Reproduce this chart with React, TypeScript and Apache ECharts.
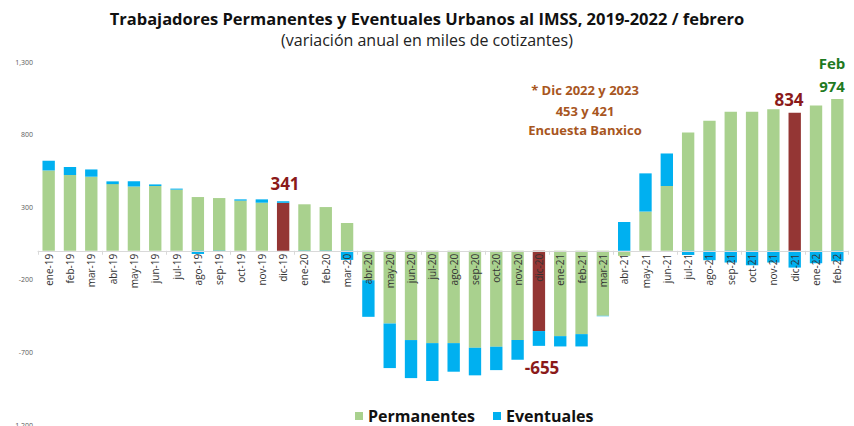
import React, { useEffect, useRef } from "react";
import * as echarts from "echarts";

const categories = [
  "ene-19", "feb-19", "mar-19", "abr-19", "may-19", "jun-19", "jul-19", "ago-19", "sep-19", "oct-19", "nov-19", "dic-19",
  "ene-20", "feb-20", "mar-20", "abr-20", "may-20", "jun-20", "jul-20", "ago-20", "sep-20", "oct-20", "nov-20", "dic-20",
  "ene-21", "feb-21", "mar-21", "abr-21", "may-21", "jun-21", "jul-21", "ago-21", "sep-21", "oct-21", "nov-21", "dic-21",
  "ene-22", "feb-22",
];

const permanentes = [
  553, 521, 510, 459, 443, 446, 421, 370, 363, 345, 331, 330,
  320, 301, 191, -203, -501, -615, -636, -636, -668, -661, -615, -553,
  -588, -574, -448, -35, 270, 446, 815, 895, 957, 957, 975, 950,
  1000, 1046,
];

const eventuales = [
  67, 55, 50, 19, 35, 11, 7, -22, -8, 9, 23, 11,
  -7, -5, -63, -252, -307, -262, -261, -197, -190, -161, -136, -102,
  -71, -85, -3, 198, 263, 224, -29, -65, -81, -100, -81, -116,
  -86, -72,
];

const highlighted = ["dic-19", "dic-20", "dic-21"];

const yTicks = { min: -1200, max: 1300, interval: 500 };

const GREEN = "#a9d18e";
const BLUE = "#00b0f0";
const RED = "#943634";
const LABEL_RED = "#8b1a1a";
const FONT = "'Open Sans', 'DejaVu Sans', sans-serif";

const GRID_TOP = 62;
const GRID_BOTTOM = 1;
const HEIGHT = 426;

export default function App() {
  const ref = useRef<HTMLDivElement>(null);

  useEffect(() => {
    document.body.style.margin = "0";
    if (!ref.current) return;
    const chart = echarts.init(ref.current, undefined, { renderer: "svg" });

    const permData = permanentes.map((v, i) =>
      highlighted.includes(categories[i])
        ? { value: v, itemStyle: { color: RED } }
        : v
    );

    const gridH = HEIGHT - GRID_TOP - GRID_BOTTOM;
    const zeroFromBottom = (gridH * (0 - yTicks.min)) / (yTicks.max - yTicks.min);

    chart.setOption({
      animation: false,
      backgroundColor: "#ffffff",
      textStyle: { fontFamily: FONT },
      title: [
        {
          text: "Trabajadores Permanentes y Eventuales Urbanos al IMSS, 2019-2022 / febrero",
          left: "center",
          top: 5,
          textStyle: { fontSize: 16.5, fontWeight: "bold", color: "#111111", fontFamily: FONT },
        },
        {
          text: "(variación anual en miles de cotizantes)",
          left: "center",
          top: 27,
          textStyle: { fontSize: 16, fontWeight: "normal", color: "#222222", fontFamily: FONT },
        },
      ],
      legend: {
        top: 407,
        left: 355,
        padding: 0,
        icon: "rect",
        itemWidth: 8,
        itemHeight: 8,
        itemGap: 18,
        textStyle: { fontSize: 16, lineHeight: 18, fontWeight: "bold", color: "#111111", fontFamily: FONT },
        data: [
          { name: "Permanentes", itemStyle: { color: GREEN } },
          { name: "Eventuales", itemStyle: { color: BLUE } },
        ],
      },
      grid: {
        left: 38,
        right: 6,
        top: GRID_TOP,
        bottom: GRID_BOTTOM,
        containLabel: false,
        outerBoundsMode: "none",
      },
      xAxis: {
        type: "category",
        data: categories,
        position: "bottom",
        offset: -zeroFromBottom,
        z: 10,
        axisLine: { onZero: false, lineStyle: { color: "#d9d9d9", width: 1 } },
        axisTick: { show: true, alignWithLabel: false, length: 4, lineStyle: { color: "#d9d9d9" } },
        axisLabel: { show: false },
      },
      yAxis: {
        type: "value",
        min: yTicks.min,
        max: yTicks.max,
        interval: yTicks.interval,
        splitLine: { show: false },
        axisLine: { show: false },
        axisTick: { show: false },
        axisLabel: {
          fontSize: 7,
          color: "#595959",
          margin: 5,
          formatter: (v: number) => v.toLocaleString("en-US"),
        },
      },
      series: [
        {
          name: "Permanentes",
          type: "bar",
          stack: "total",
          barWidth: "58%",
          itemStyle: { color: GREEN },
          data: permData,
        },
        {
          name: "Eventuales",
          type: "bar",
          stack: "total",
          barWidth: "58%",
          itemStyle: { color: BLUE },
          data: eventuales,
        },
        {
          name: "etiquetas",
          type: "custom",
          z: 20,
          silent: true,
          clip: false,
          data: categories.map((c, i) => [i, 0]),
          renderItem: (params: any, api: any) => {
            const p = api.coord([api.value(0), 0]);
            return {
              type: "text",
              x: p[0],
              y: p[1] + 3,
              rotation: Math.PI / 2,
              style: {
                text: categories[params.dataIndex],
                fill: "#333333",
                font: `10px ${FONT}`,
                textAlign: "right",
                textVerticalAlign: "middle",
              },
            };
          },
        },
      ],
      graphic: [
        {
          type: "text", x: 285, y: 183,
          style: { text: "341", fill: LABEL_RED, font: `bold 17px ${FONT}`, textAlign: "center", textVerticalAlign: "middle" },
        },
        {
          type: "text", x: 542, y: 367,
          style: { text: "-655", fill: LABEL_RED, font: `bold 17px ${FONT}`, textAlign: "center", textVerticalAlign: "middle" },
        },
        {
          type: "text", x: 789, y: 99,
          style: { text: "834", fill: LABEL_RED, font: `bold 17px ${FONT}`, textAlign: "center", textVerticalAlign: "middle" },
        },
        {
          type: "text", x: 832, y: 63,
          style: { text: "Feb", fill: "#1f7a1f", font: `bold 15px ${FONT}`, textAlign: "center", textVerticalAlign: "middle" },
        },
        {
          type: "text", x: 832, y: 86,
          style: { text: "974", fill: "#1f7a1f", font: `bold 15px ${FONT}`, textAlign: "center", textVerticalAlign: "middle" },
        },
        {
          type: "text", x: 585, y: 90,
          style: { text: "* Dic 2022 y 2023", fill: "#a8561e", font: `bold 13px ${FONT}`, textAlign: "center", textVerticalAlign: "middle" },
        },
        {
          type: "text", x: 585, y: 111,
          style: { text: "453 y 421", fill: "#a8561e", font: `bold 13px ${FONT}`, textAlign: "center", textVerticalAlign: "middle" },
        },
        {
          type: "text", x: 585, y: 130,
          style: { text: "Encuesta Banxico", fill: "#a8561e", font: `bold 13px ${FONT}`, textAlign: "center", textVerticalAlign: "middle" },
        },
      ],
    });

    return () => chart.dispose();
  }, []);

  return <div ref={ref} style={{ width: 854, height: 426 }} />;
}
